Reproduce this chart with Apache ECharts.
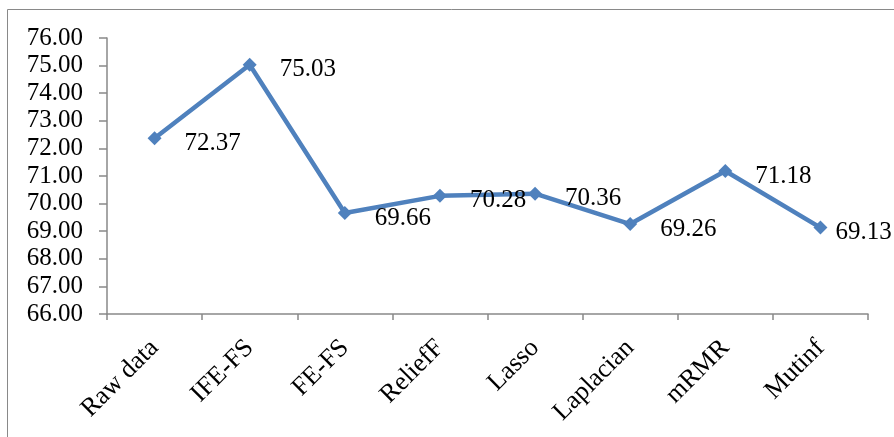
<!DOCTYPE html>
<html>
<head>
<meta charset="utf-8">
<script src="https://cdn.jsdelivr.net/npm/echarts@6/dist/echarts.min.js"></script>
<style>html,body{margin:0;padding:0;background:#fff;}#c{width:894px;height:437px;}</style>
</head>
<body>
<div id="c"></div>
<script>
const categories = ['Raw data', 'IFE-FS', 'FE-FS', 'ReliefF', 'Lasso', 'Laplacian', 'mRMR', 'Mutinf'];
const values = [72.37, 75.03, 69.66, 70.28, 70.36, 69.26, 71.18, 69.13];
const yTicks = {min: 66, max: 76, interval: 1};

const font = 'Liberation Serif, Times New Roman, serif';
const chart = echarts.init(document.getElementById('c'));
chart.setOption({
  animation: false,
  graphic: [{
    type: 'rect', silent: true, z: -1,
    shape: {x: 7.5, y: 9.5, width: 900, height: 450},
    style: {fill: 'none', stroke: '#898989', lineWidth: 1}
  }],
  grid: {left: 107, right: 26, top: 38, bottom: 123, containLabel: false},
  xAxis: {
    type: 'category',
    data: categories,
    boundaryGap: true,
    axisLine: {lineStyle: {color: '#898989', width: 1.5}},
    axisTick: {show: true, length: 6, lineStyle: {color: '#898989', width: 1.5}},
    axisLabel: {rotate: 45, margin: 30, color: '#000', fontFamily: font, fontSize: 26, interval: 0}
  },
  yAxis: {
    type: 'value',
    min: yTicks.min, max: yTicks.max, interval: yTicks.interval,
    axisLine: {show: true, lineStyle: {color: '#898989', width: 1.5}},
    axisTick: {show: true, length: 8, lineStyle: {color: '#898989', width: 1.5}},
    splitLine: {show: false},
    axisLabel: {margin: 24, color: '#000', fontFamily: font, fontSize: 25, formatter: v => v.toFixed(2)}
  },
  series: [{
    type: 'line',
    data: values.map((v, i) => ({
      value: v,
      label: i === values.length - 1 ? {distance: 8} : {}
    })),
    symbol: 'diamond',
    symbolSize: 14,
    lineStyle: {color: '#4F81BD', width: 4.5},
    itemStyle: {color: '#4F81BD'},
    label: {
      show: true, position: 'right', distance: 23, offset: [0, 5],
      color: '#000', fontFamily: font, fontSize: 25,
      formatter: p => p.value.toFixed(2)
    }
  }]
});
</script>
</body>
</html>
